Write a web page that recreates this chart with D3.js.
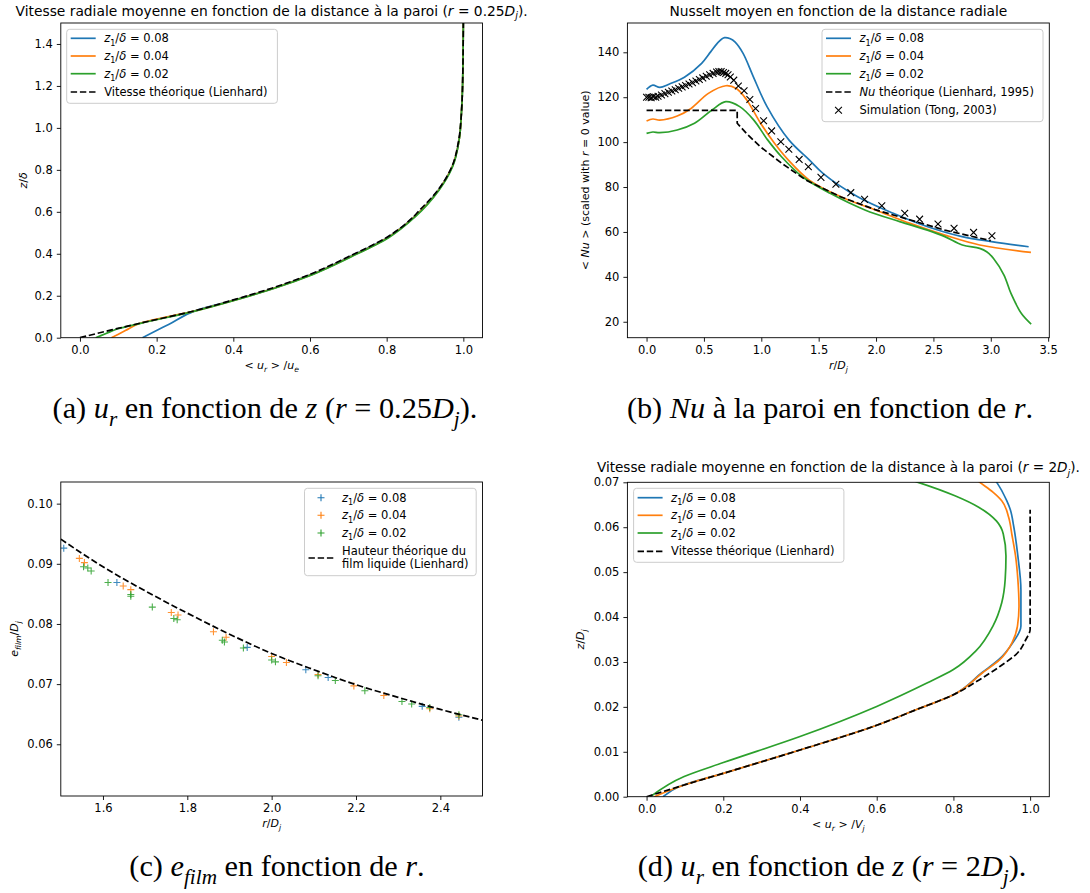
<!DOCTYPE html>
<html><head><meta charset="utf-8">
<script src="https://cdn.jsdelivr.net/npm/d3@7"></script>
<style>
body{margin:0;background:#fff;}
svg text{font-family:"DejaVu Sans",sans-serif;}
</style></head><body>
<script>
// ================= DATA =================
// (a) radial velocity vs wall distance at r = 0.25 Dj
const aTheoZ = [0,0.037,0.068,0.129,0.18,0.236,0.302,0.386,0.478,0.577,0.6,0.704,0.815,0.942,1.07,1.2,1.5];
const aTheoU = [0,0.082,0.154,0.30,0.40,0.50,0.60,0.70,0.80,0.87,0.882,0.934,0.97,0.988,0.995,0.998,1.0];
const a08Z = [0,0.0645,0.129,0.18,0.236,0.302,0.386,0.478,0.577,0.704,0.815,0.942,1.07,1.2,1.5];
const a08U = [0.163,0.2325,0.302,0.404,0.505,0.604,0.703,0.802,0.872,0.935,0.971,0.989,0.995,0.998,1.0];
const a04Z = [0,0.034,0.068,0.129,0.18,0.236,0.302,0.386,0.478,0.577,0.704,0.815,0.942,1.07,1.2,1.5];
const a04U = [0.082,0.1185,0.155,0.303,0.405,0.506,0.606,0.706,0.804,0.873,0.936,0.971,0.989,0.995,0.998,1.0];
const a02Z = [0,0.02,0.04,0.068,0.129,0.18,0.236,0.302,0.386,0.478,0.577,0.704,0.815,0.942,1.07,1.2,1.5];
const a02U = [0.041,0.068,0.095,0.158,0.305,0.407,0.508,0.608,0.708,0.806,0.875,0.937,0.972,0.989,0.995,0.998,1.0];
const aXTicks = [0,0.2,0.4,0.6,0.8,1.0];
const aYTicks = [0,0.2,0.4,0.6,0.8,1.0,1.2,1.4];

// (b) Nusselt vs radial distance
const bTheoR = [0,0.79,0.79,0.87,0.99,1.18,1.39,1.69,2.0,2.3,2.6,3.0];
const bTheoNu = [114.1,114.1,108.4,103.9,98,90.5,83.1,75.7,69.8,65.3,60.8,56.1];
const b08R = [0,0.055,0.115,0.2,0.33,0.48,0.56,0.63,0.68,0.73,0.77,0.84,0.93,1.05,1.24,1.42,1.54,1.84,2.15,2.45,2.75,3.02,3.33];
const b08Nu = [123.5,125.4,124.4,125.9,128.9,135.1,140.3,144.8,146.5,146,144.6,139.6,129.2,115.8,101,92,86,75.7,68.3,62.3,57.9,55.6,53.4];
const b04R = [0,0.055,0.115,0.267,0.388,0.539,0.691,0.782,0.873,0.994,1.115,1.236,1.418,1.691,1.994,2.297,2.6,2.903,3.35];
const b04Nu = [109.4,110.3,109.8,111.6,115,121.7,125.1,123.9,118.8,108.4,99.5,92,83.1,75.7,69.8,63.8,58.6,54.2,50.9];
const b02R = [0,0.055,0.115,0.267,0.418,0.57,0.691,0.812,0.933,1.055,1.176,1.358,1.6,1.903,2.206,2.448,2.6,2.752,2.903,2.964,3.024,3.115,3.176,3.267,3.352];
const b02Nu = [103.9,104.5,104.2,105.4,108.4,114.3,118,115.8,109.9,101,93.5,84.6,77.2,69.8,64.6,60.8,57.9,54.2,52.7,51.2,48.2,40.8,32.6,23.7,19];
const bTongR = [0,0.02,0.04,0.06,0.08,0.10,0.13,0.16,0.19,0.22,0.25,0.28,0.31,0.34,0.37,0.40,0.43,0.46,0.49,0.52,0.55,0.58,0.61,0.63,0.65,0.67,0.69,0.71,0.73,0.76,0.80,0.85,0.90,0.95,1.02,1.09,1.17,1.24,1.33,1.41,1.52,1.65,1.78,1.90,2.05,2.25,2.38,2.54,2.68,2.85,3.01];
const bTongNu = [120,120,119.8,120.2,120,120.4,121,121.6,122.2,122.8,123.3,124,124.6,125.2,125.9,126.5,127.2,127.9,128.6,129.3,130,130.6,131.2,131.4,131.4,131,130.6,130,129,127.6,125,122.9,119,115,109.5,105,100.2,96.8,92.3,89,84.3,81.2,77.5,74.5,71.7,68.3,65.7,63.5,61.6,59.8,58.3];
const bXTicks = [0,0.5,1.0,1.5,2.0,2.5,3.0,3.5];
const bYTicks = [20,40,60,80,100,120,140];

// (c) film thickness vs r
const cTheoR = [1.5,1.6,1.7,1.8,1.9,2.0,2.1,2.2,2.3,2.4,2.5];
const cTheoE = [0.0941,0.0895,0.0855,0.0818,0.0783,0.0751,0.0724,0.0699,0.0678,0.0658,0.0640];
const c08R = [1.507,1.633,1.942,2.081,2.134,2.357,2.444];
const c08E = [0.0926,0.0869,0.0761,0.0724,0.0711,0.0663,0.0645];
const c04R = [1.544,1.556,1.648,1.666,1.762,1.778,1.862,1.892,2.0,2.035,2.11,2.195,2.266,2.375,2.444];
const c04E = [0.0909,0.0902,0.0863,0.0857,0.0819,0.0815,0.0787,0.0778,0.0746,0.0736,0.0716,0.0697,0.0681,0.0659,0.0647];
const c02R = [1.554,1.564,1.572,1.612,1.666,1.666,1.717,1.768,1.776,1.883,1.888,1.933,2.0,2.009,2.11,2.151,2.221,2.309,2.332,2.375,2.444];
const c02E = [0.0895,0.0893,0.0888,0.0869,0.0849,0.0846,0.0828,0.0809,0.0807,0.0773,0.077,0.076,0.074,0.0737,0.0714,0.0706,0.0689,0.0671,0.0667,0.0661,0.0649];
const cXTicks = [1.6,1.8,2.0,2.2,2.4];
const cYTicks = [0.06,0.07,0.08,0.09,0.10];

// (d) radial velocity vs wall distance at r = 2 Dj
const dTheoZ = [0,0.0026,0.0052,0.0104,0.0159,0.0194,0.0227,0.026,0.029,0.032,0.035,0.0372,0.0639];
const dTheoU = [0,0.098,0.2,0.4,0.6,0.704,0.8,0.867,0.921,0.967,0.989,1.0,1.0];
const d08Z = [0,0.0022,0.0052,0.0104,0.0159,0.0194,0.0227,0.0276,0.0305,0.0343,0.038,0.046,0.0536,0.0603,0.064,0.0659,0.0701,0.072];
const d08U = [0.043,0.084,0.2,0.4,0.6,0.704,0.8,0.874,0.918,0.955,0.976,0.976,0.968,0.957,0.948,0.939,0.912,0.895];
const d04Z = [0,0.0026,0.0052,0.0104,0.0159,0.0194,0.0227,0.0276,0.0305,0.0343,0.038,0.0424,0.0484,0.0536,0.0581,0.0622,0.0659,0.0678,0.0701,0.072];
const d04U = [0.02,0.098,0.2,0.4,0.6,0.704,0.8,0.876,0.921,0.953,0.967,0.971,0.968,0.962,0.953,0.944,0.926,0.903,0.867,0.84];
const d02Z = [0,0.0045,0.0076,0.0134,0.0201,0.0253,0.0283,0.0324,0.038,0.0432,0.0484,0.0536,0.0585,0.0614,0.0644,0.067,0.0701,0.072];
const d02U = [0.01,0.098,0.2,0.4,0.6,0.731,0.8,0.858,0.903,0.926,0.935,0.937,0.93,0.912,0.867,0.804,0.704,0.63];
const dXTicks = [0,0.2,0.4,0.6,0.8,1.0];
const dYTicks = [0,0.01,0.02,0.03,0.04,0.05,0.06,0.07];

const seriesLabels = ["0.08","0.04","0.02"];
const COLORS = ["#1f77b4","#ff7f0e","#2ca02c"];

// ================= DRAWING =================
const W=1090, H=893;
const svg = d3.select("body").append("svg").attr("width",W).attr("height",H);
const LW = 1.7, DASH = "6.4,2.8";
let clipN = 0;

function S(t,i,sub){return {t:t,i:!!i,sub:!!sub};}
function rich(sel, segs, fs){
  let shift = 0;
  segs.forEach(s=>{
    const ts = sel.append("tspan").text(s.t);
    if(s.i) ts.attr("font-style","italic");
    const target = s.sub ? 0.28*fs : 0;
    if(target !== shift) ts.attr("dy", target - shift);
    shift = target;
    if(s.sub) ts.attr("font-size", fs*0.7);
  });
  return sel;
}

function panel(box, xd, yd, xt, yt, xf, yf){
  const g = svg.append("g");
  const x = d3.scaleLinear().domain(xd).range([box.l, box.r]);
  const y = d3.scaleLinear().domain(yd).range([box.b, box.t]);
  const id = "clip"+(clipN++);
  svg.append("clipPath").attr("id",id).append("rect")
    .attr("x",box.l).attr("y",box.t).attr("width",box.r-box.l).attr("height",box.b-box.t);
  const plot = g.append("g").attr("clip-path",`url(#${id})`);
  const ax = g.append("g").attr("transform",`translate(0,${box.b})`)
    .call(d3.axisBottom(x).tickValues(xt).tickFormat(d3.format(xf)).tickSize(4).tickPadding(4));
  const ay = g.append("g").attr("transform",`translate(${box.l},0)`)
    .call(d3.axisLeft(y).tickValues(yt).tickFormat(d3.format(yf)).tickSize(4).tickPadding(4));
  [ax,ay].forEach(a=>{
    a.attr("font-family","DejaVu Sans").attr("font-size",11.5);
    a.select(".domain").remove();
    a.selectAll(".tick line").attr("stroke","#000").attr("stroke-width",0.9);
    a.selectAll(".tick text").attr("fill","#000");
  });
  g.append("rect").attr("x",box.l).attr("y",box.t).attr("width",box.r-box.l).attr("height",box.b-box.t)
    .attr("fill","none").attr("stroke","#000").attr("stroke-width",0.9);
  return {g, plot, x, y, box};
}

function drawLine(P, xs, ys, color, dashed, curve){
  const pts = xs.map((v,i)=>[v, ys[i]]);
  P.plot.append("path").datum(pts)
    .attr("d", d3.line().x(d=>P.x(d[0])).y(d=>P.y(d[1])).curve(curve || d3.curveCatmullRom.alpha(0.5)))
    .attr("fill","none").attr("stroke",color).attr("stroke-width",LW)
    .attr("stroke-dasharray", dashed ? DASH : null);
}
const PLUS = "M-3.5,0L3.5,0M0,-3.5L0,3.5";
const CROSS = "M-3.4,-3.4L3.4,3.4M-3.4,3.4L3.4,-3.4";
function drawMarkers(P, xs, ys, color, shape, op){
  P.plot.selectAll(null).data(xs.map((v,i)=>[v,ys[i]])).enter().append("path")
    .attr("transform", d=>`translate(${P.x(d[0])},${P.y(d[1])})`)
    .attr("d", shape).attr("fill","none").attr("stroke",color).attr("stroke-width",1.1)
    .attr("opacity", op||1);
}

function titleText(P, segs, fs, off){
  const t = P.g.append("text").attr("x",(P.box.l+P.box.r)/2).attr("y",P.box.t-(off||7.5))
    .attr("text-anchor","middle").attr("font-size",fs);
  rich(t, segs, fs);
}
function xLabel(P, segs){
  const t = P.g.append("text").attr("x",(P.box.l+P.box.r)/2).attr("y",P.box.b+31)
    .attr("text-anchor","middle").attr("font-size",11);
  rich(t, segs, 11);
}
function yLabel(P, cx, segs){
  const cy = (P.box.t+P.box.b)/2;
  const t = P.g.append("text").attr("transform",`translate(${cx+4},${cy}) rotate(-90)`)
    .attr("text-anchor","middle").attr("font-size",11);
  rich(t, segs, 11);
}

function legend(P, L, T, Wd, Hh, entries){
  const g = P.g.append("g");
  g.append("rect").attr("x",L).attr("y",T).attr("width",Wd).attr("height",Hh).attr("rx",3)
    .attr("fill","#fff").attr("fill-opacity",0.8).attr("stroke","#cccccc").attr("stroke-width",1);
  entries.forEach(e=>{
    const cy = e.y;
    const hx0 = L+4, hx1 = L+29;
    if(e.kind==="line"||e.kind==="dash"){
      g.append("line").attr("x1",hx0).attr("x2",hx1).attr("y1",cy).attr("y2",cy)
        .attr("stroke",e.color).attr("stroke-width",LW).attr("stroke-dasharray",e.kind==="dash"?DASH:null);
    } else {
      g.append("path").attr("transform",`translate(${(hx0+hx1)/2},${cy})`)
        .attr("d", e.kind==="plus"?PLUS:CROSS).attr("fill","none").attr("stroke",e.color).attr("stroke-width",1.1);
    }
    e.lines.forEach((segs,k)=>{
      const ty = (e.textY ? e.textY[k] : cy) + 4;
      const t = g.append("text").attr("x",L+37.5).attr("y",ty).attr("font-size",11.5);
      rich(t, segs, 11.5);
    });
  });
}
const zLab = v => [S("z",1),S("1",0,1),S("/"),S("δ",1),S(" = "+v)];

// ---------- Panel (a) ----------
const PA = panel({l:60.8,r:482.5,t:23,b:337.7}, [-0.05,1.05], [0,1.5], aXTicks, aYTicks, ".1f", ".1f");
drawLine(PA, a08U, a08Z, COLORS[0], false, d3.curveMonotoneY);
drawLine(PA, a04U, a04Z, COLORS[1], false, d3.curveMonotoneY);
drawLine(PA, a02U, a02Z, COLORS[2], false, d3.curveMonotoneY);
drawLine(PA, aTheoU, aTheoZ, "#000", true, d3.curveMonotoneY);
titleText(PA, [S("Vitesse radiale moyenne en fonction de la distance à la paroi ("),S("r",1),S(" = 0.25"),S("D",1),S("j",1,1),S(").")], 13.8);
xLabel(PA, [S("< "),S("u",1),S("r",1,1),S(" > /"),S("u",1),S("e",1,1)]);
yLabel(PA, 22.6, [S("z",1),S("/"),S("δ",1)]);
legend(PA, 66.7, 29.3, 210.7, 74, [
  {kind:"line",color:COLORS[0],y:38.3,lines:[zLab(seriesLabels[0])]},
  {kind:"line",color:COLORS[1],y:56,lines:[zLab(seriesLabels[1])]},
  {kind:"line",color:COLORS[2],y:73.7,lines:[zLab(seriesLabels[2])]},
  {kind:"dash",color:"#000",y:92,lines:[[S("Vitesse théorique (Lienhard)")]]}
]);

// ---------- Panel (b) ----------
const PB = panel({l:627.4,r:1049.3,t:23,b:337.7}, [-0.167,3.51], [12.9,153.05], bXTicks, bYTicks, ".1f", "d");
drawLine(PB, b08R, b08Nu, COLORS[0]);
drawLine(PB, b04R, b04Nu, COLORS[1]);
drawLine(PB, b02R, b02Nu, COLORS[2]);
drawLine(PB, bTheoR, bTheoNu, "#000", true, d3.curveLinear);
drawMarkers(PB, bTongR, bTongNu, "#000", CROSS);
titleText(PB, [S("Nusselt moyen en fonction de la distance radiale")], 13.8);
xLabel(PB, [S("r",1),S("/"),S("D",1),S("j",1,1)]);
yLabel(PB, 585, [S("< "),S("Nu",1),S(" >  (scaled with "),S("r",1),S(" = 0 value)")]);
legend(PB, 822, 29.3, 221, 92.4, [
  {kind:"line",color:COLORS[0],y:38.3,lines:[zLab(seriesLabels[0])]},
  {kind:"line",color:COLORS[1],y:56,lines:[zLab(seriesLabels[1])]},
  {kind:"line",color:COLORS[2],y:73.7,lines:[zLab(seriesLabels[2])]},
  {kind:"dash",color:"#000",y:92,lines:[[S("Nu",1),S(" théorique (Lienhard, 1995)")]]},
  {kind:"cross",color:"#000",y:110.3,lines:[[S("Simulation (Tong, 2003)")]]}
]);

// ---------- Panel (c) ----------
const PC = panel({l:60.8,r:482.5,t:482,b:796}, [1.5,2.5], [0.0514,0.1036], cXTicks, cYTicks, ".1f", ".2f");
drawMarkers(PC, c08R, c08E, COLORS[0], PLUS, 0.85);
drawMarkers(PC, c04R, c04E, COLORS[1], PLUS, 0.85);
drawMarkers(PC, c02R, c02E, COLORS[2], PLUS, 0.85);
drawLine(PC, cTheoR, cTheoE, "#000", true, d3.curveMonotoneX);
xLabel(PC, [S("r",1),S("/"),S("D",1),S("j",1,1)]);
yLabel(PC, 13.9, [S("e",1),S("film",1,1),S("/"),S("D",1),S("j",1,1)]);
legend(PC, 304.5, 488.3, 171.7, 87.4, [
  {kind:"plus",color:COLORS[0],y:497.7,lines:[zLab(seriesLabels[0])]},
  {kind:"plus",color:COLORS[1],y:515.3,lines:[zLab(seriesLabels[1])]},
  {kind:"plus",color:COLORS[2],y:533,lines:[zLab(seriesLabels[2])]},
  {kind:"dash",color:"#000",y:558,textY:[551,564.3],lines:[[S("Hauteur théorique du")],[S("film liquide (Lienhard)")]]}
]);

// ---------- Panel (d) ----------
const PD = panel({l:627.4,r:1049.3,t:482.3,b:796.7}, [-0.05,1.05], [0,0.07], dXTicks, dYTicks, ".1f", ".2f");
drawLine(PD, d08U, d08Z, COLORS[0], false, d3.curveMonotoneY);
drawLine(PD, d04U, d04Z, COLORS[1], false, d3.curveMonotoneY);
drawLine(PD, d02U, d02Z, COLORS[2], false, d3.curveMonotoneY);
drawLine(PD, dTheoU, dTheoZ, "#000", true, d3.curveMonotoneY);
titleText(PD, [S("Vitesse radiale moyenne en fonction de la distance à la paroi ("),S("r",1),S(" = 2"),S("D",1),S("j",1,1),S(").")], 13.6, 10);
xLabel(PD, [S("< "),S("u",1),S("r",1,1),S(" > /"),S("V",1),S("j",1,1)]);
yLabel(PD, 579.8, [S("z",1),S("/"),S("D",1),S("j",1,1)]);
legend(PD, 633.6, 488.3, 210.3, 74, [
  {kind:"line",color:COLORS[0],y:497.7,lines:[zLab(seriesLabels[0])]},
  {kind:"line",color:COLORS[1],y:515.3,lines:[zLab(seriesLabels[1])]},
  {kind:"line",color:COLORS[2],y:533,lines:[zLab(seriesLabels[2])]},
  {kind:"dash",color:"#000",y:551.3,lines:[[S("Vitesse théorique (Lienhard)")]]}
]);

// ---------- Captions ----------
const capFont = "'Liberation Serif','Times New Roman',serif";
const caps = [
  {x:265, y:418, segs:[S("(a) "),S("u",1),S("r",1,1),S(" en fonction de "),S("z",1),S(" ("),S("r",1),S(" = 0.25"),S("D",1),S("j",1,1),S(").")]},
  {x:830, y:418, segs:[S("(b) "),S("Nu",1),S(" à la paroi en fonction de "),S("r",1),S(".")]},
  {x:277, y:876, segs:[S("(c) "),S("e",1),S("film",1,1),S(" en fonction de "),S("r",1),S(".")]},
  {x:832, y:876, segs:[S("(d) "),S("u",1),S("r",1,1),S(" en fonction de "),S("z",1),S(" ("),S("r",1),S(" = 2"),S("D",1),S("j",1,1),S(").")]}
];
let capFs = 25;
const capNodes = caps.map(c=>{
  const t = svg.append("text").attr("x",c.x).attr("y",c.y).attr("text-anchor","middle")
    .style("font-family",capFont).attr("font-size",capFs);
  rich(t, c.segs, capFs);
  return t;
});
const wA = capNodes[0].node().getComputedTextLength();
if (wA > 0) {
  const fs = capFs * 425 / wA;
  capNodes.forEach((t,i)=>{ t.selectAll("tspan").remove(); t.attr("font-size",fs); rich(t, caps[i].segs, fs); });
}
</script>
</body></html>
